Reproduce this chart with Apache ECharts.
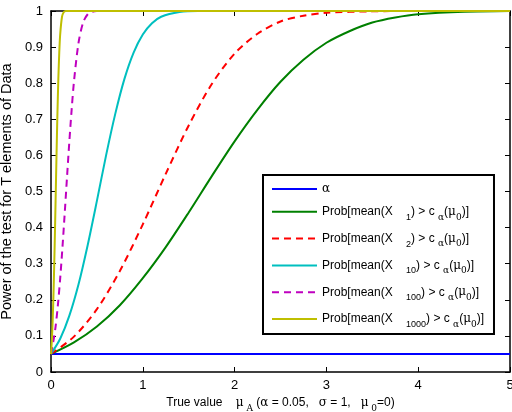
<!DOCTYPE html>
<html><head><meta charset="utf-8">
<script src="https://cdn.jsdelivr.net/npm/echarts@6/dist/echarts.min.js"></script>
<style>html,body{margin:0;padding:0;background:#fff}#c{width:512px;height:412px}</style>
</head><body><div id="c"></div>
<script>
// Data
const alphaX = [0, 5];
const alphaY = [0.05, 0.05];
const t1X = [0, 0.25, 0.5, 0.75, 1, 1.25, 1.5, 1.75, 2, 2.25, 2.5, 2.75, 3, 3.25, 3.5, 3.75, 4, 4.5, 5];
const t1Y = [0.05, 0.082, 0.126, 0.185, 0.26, 0.346, 0.442, 0.542, 0.639, 0.727, 0.804, 0.865, 0.912, 0.944, 0.968, 0.982, 0.991, 0.998, 1.0];
const t2X = [0, 0.25, 0.5, 0.75, 1, 1.25, 1.5, 1.75, 2, 2.25, 2.5, 2.75, 3, 3.5, 4, 5];
const t2Y = [0.05, 0.098, 0.174, 0.28, 0.409, 0.549, 0.683, 0.797, 0.882, 0.937, 0.971, 0.987, 0.995, 0.999, 1.0, 1.0];
const t10X = [0, 0.1, 0.2, 0.3, 0.4, 0.5, 0.6, 0.7, 0.8, 0.9, 1.0, 1.1, 1.2, 1.4, 1.6, 2, 5];
const t10Y = [0.05, 0.092, 0.156, 0.243, 0.352, 0.474, 0.6, 0.715, 0.812, 0.885, 0.935, 0.966, 0.984, 0.997, 1.0, 1.0, 1.0];
const t100X = [0, 0.025, 0.05, 0.075, 0.1, 0.125, 0.15, 0.175, 0.2, 0.225, 0.25, 0.3, 0.35, 0.4, 0.45, 0.5, 5];
const t100Y = [0.05, 0.084, 0.126, 0.185, 0.259, 0.346, 0.442, 0.542, 0.639, 0.727, 0.804, 0.912, 0.968, 0.991, 0.998, 1.0, 1.0];
const t1000X = [0, 0.01, 0.02, 0.03, 0.04, 0.05, 0.06, 0.07, 0.08, 0.09, 0.1, 0.12, 0.14, 0.16, 5];
const t1000Y = [0.05, 0.092, 0.156, 0.243, 0.352, 0.474, 0.6, 0.715, 0.812, 0.885, 0.935, 0.984, 0.997, 1.0, 1.0];
const subs = ['1', '2', '10', '100', '1000'];

const zip = (xs, ys) => xs.map((x, i) => [x, ys[i]]);
const FONT = 'Liberation Sans';
const chart = echarts.init(document.getElementById('c'), null, {renderer: 'canvas'});

function mk(name, xs, ys, color, dashed) {
  return {
    name, type: 'line', data: zip(xs, ys), smooth: 0.3, symbol: 'none',
    lineStyle: {color, width: 2, type: dashed ? [7, 5] : 'solid'},
    itemStyle: {color}, z: 3
  };
}
const names = ['alpha'].concat(subs.map(s => 'T' + s));
const richLeg = {
  n: {fontFamily: FONT, fontSize: 12, color: '#000'},
  g: {fontFamily: 'DejaVu Serif', fontSize: 12, color: '#000'},
  s: {fontFamily: FONT, fontSize: 9, color: '#000', padding: [11, 0, 0, 0]},
  sg: {fontFamily: 'DejaVu Serif', fontSize: 9, color: '#000', padding: [11, 0, 0, 0]}
};
const axCommon = {
  axisLine: {show: true, onZero: false, lineStyle: {color: '#000', width: 1.5}},
  axisTick: {show: true, inside: true, length: 5, lineStyle: {color: '#000', width: 1}},
  splitLine: {show: false}
};
chart.setOption({
  animation: false,
  backgroundColor: '#fff',
  grid: {left: 51, right: 2, top: 11, bottom: 40, outerBoundsMode: 'none', containLabel: false},
  xAxis: [
    Object.assign({type: 'value', min: 0, max: 5, interval: 1,
      axisLabel: {fontFamily: FONT, fontSize: 13, color: '#000', margin: 7},
      name: '{n|True value    }{g|μ}{sg| A}{n| (}{g|α}{n| = 0.05,   }{g|σ}{n| = 1,   }{g|μ}{sg| 0}{n|=0)}',
      nameLocation: 'middle', nameGap: 19,
      nameTextStyle: {rich: richLeg}
    }, axCommon),
    Object.assign({type: 'value', min: 0, max: 5, interval: 1, position: 'top',
      axisLabel: {show: false}}, axCommon)
  ],
  yAxis: [
    Object.assign({type: 'value', min: 0, max: 1, interval: 0.1,
      axisLabel: {fontFamily: FONT, fontSize: 13, color: '#000', margin: 8,
        formatter: v => String(Math.round(v * 10) / 10)},
      name: 'Power of the test for T elements of Data', nameLocation: 'middle', nameGap: 34,
      nameTextStyle: {fontFamily: FONT, fontSize: 14.5, color: '#000'}
    }, axCommon),
    Object.assign({type: 'value', min: 0, max: 1, interval: 0.1, position: 'right',
      axisLabel: {show: false}}, axCommon)
  ],
  legend: {
    orient: 'vertical', left: 263, top: 175,
    backgroundColor: '#fff', borderColor: '#000', borderWidth: 2,
    padding: [8, 10, 5, 8], itemWidth: 45, itemHeight: 14, itemGap: 10.8,
    data: names,
    itemStyle: {opacity: 0},
    formatter: n => {
      if (n === 'alpha') return '{g|α}';
      const s = n.slice(1);
      return '{n|Prob[mean(X    }{s|' + s + '}{n|) > c }{sg|α}{n|(}{g|μ}{sg|0}{n|)]}';
    },
    textStyle: {rich: richLeg}
  },
  series: [
    mk('alpha', alphaX, alphaY, '#0000ff', false),
    mk('T1', t1X, t1Y, '#008000', false),
    mk('T2', t2X, t2Y, '#ff0000', true),
    mk('T10', t10X, t10Y, '#00bfbf', false),
    mk('T100', t100X, t100Y, '#bf00bf', true),
    mk('T1000', t1000X, t1000Y, '#bfbf00', false)
  ]
});
</script></body></html>
